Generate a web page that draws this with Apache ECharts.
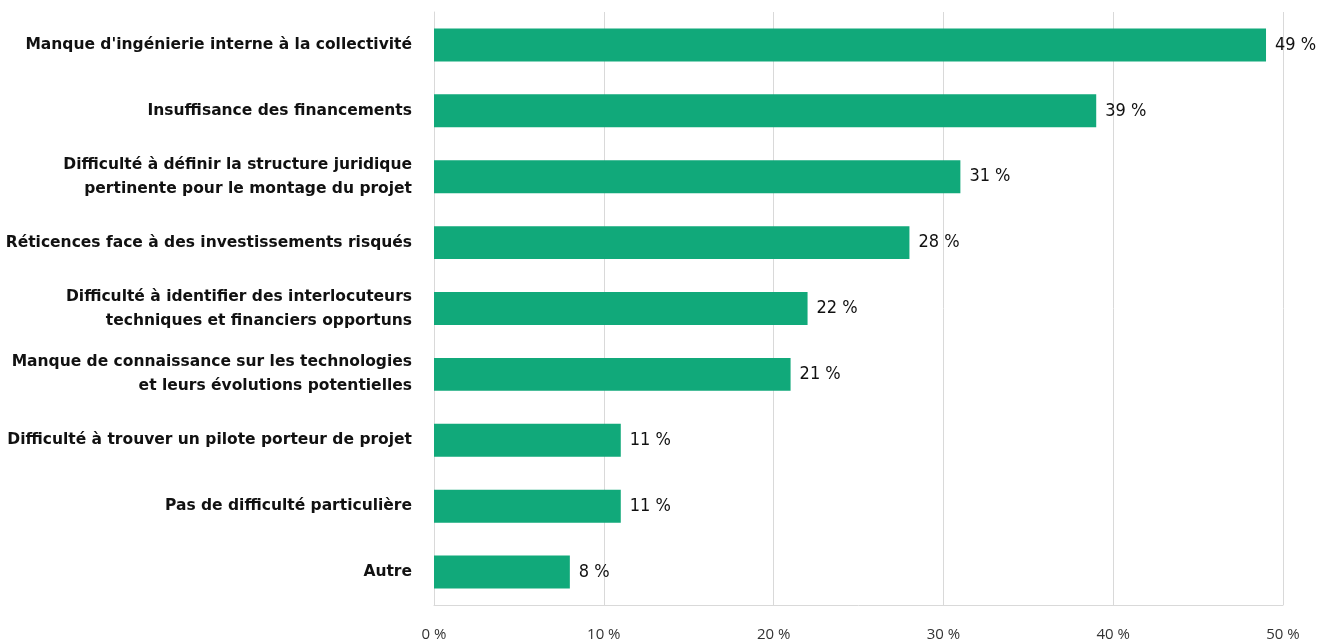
<!DOCTYPE html>
<html>
<head>
<meta charset="utf-8">
<script src="https://cdn.jsdelivr.net/npm/echarts@6/dist/echarts.min.js"></script>
<style>
  html, body { margin: 0; padding: 0; background: #fff; }
  #chart { width: 1317px; height: 642px; }
</style>
</head>
<body>
<div id="chart"></div>
<script>
// catégories (de haut en bas)
var categories = [
    "Manque d'ingénierie interne à la collectivité",
    "Insuffisance des financements",
    "Difficulté à définir la structure juridique\npertinente pour le montage du projet",
    "Réticences face à des investissements risqués",
    "Difficulté à identifier des interlocuteurs\ntechniques et financiers opportuns",
    "Manque de connaissance sur les technologies\net leurs évolutions potentielles",
    "Difficulté à trouver un pilote porteur de projet",
    "Pas de difficulté particulière",
    "Autre"
];
var values = [49, 39, 31, 28, 22, 21, 11, 11, 8];
var xTicks = [0, 10, 20, 30, 40, 50];

var chart = echarts.init(document.getElementById('chart'));

var option = {
    animation: false,
    grid: { left: 434, right: 34, top: 12, bottom: 35, containLabel: false },
    xAxis: {
        type: 'value',
        min: xTicks[0],
        max: xTicks[xTicks.length - 1],
        interval: 10,
        axisLine: { show: true, lineStyle: { color: '#d9d9d9' } },
        axisTick: { show: false },
        splitLine: { lineStyle: { color: '#d9d9d9' } },
        axisLabel: {
            margin: 22,
            fontFamily: 'Open Sans',
            fontSize: 15,
            color: '#333',
            formatter: function (v) { return v + ' %'; }
        }
    },
    yAxis: {
        type: 'category',
        inverse: true,
        data: categories,
        axisLine: { show: true, lineStyle: { color: '#d9d9d9' } },
        axisTick: { show: false },
        axisLabel: {
            margin: 22,
            fontFamily: 'DejaVu Sans',
            fontWeight: 'bold',
            fontSize: 15.5,
            lineHeight: 24,
            color: '#111',
            align: 'right'
        }
    },
    series: [
        {
            type: 'bar',
            data: values,
            barWidth: '50%',
            itemStyle: { color: '#11a97a' },
            label: {
                show: true,
                position: 'right',
                distance: 9,
                fontFamily: 'DejaVu Sans Condensed',
                fontSize: 18,
                color: '#111',
                formatter: '{c} %'
            }
        }
    ]
};

chart.setOption(option);
</script>
</body>
</html>
